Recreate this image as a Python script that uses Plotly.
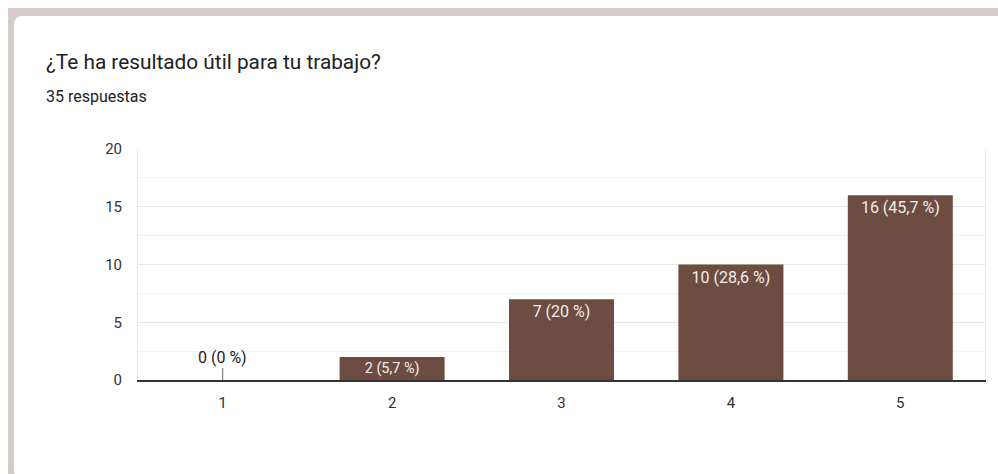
import plotly.graph_objects as go

# Survey results: "¿Te ha resultado útil para tu trabajo?" (scale 1-5)
categories = [1, 2, 3, 4, 5]
counts = [0, 2, 7, 10, 16]
y_ticks = [0, 5, 10, 15, 20]

title_text = "¿Te ha resultado útil para tu trabajo?"
total = sum(counts)
subtitle_text = f"{total} respuestas"

BAR_COLOR = "#6d4c41"
FONT = "Roboto"

W, H = 998, 474
L, R, T, B = 138, 13, 149, 94
PW, PH = W - L - R, H - T - B


def px(x):
    return (x - L) / PW


def py(y):
    return (H - B - y) / PH


def pct_label(v):
    p = round(v / total * 100, 1)
    s = f"{p:.1f}".replace(".", ",")
    if s.endswith(",0"):
        s = s[:-2]
    return f"{v} ({s} %)"


labels = [pct_label(v) for v in counts]
inside_text = [lab if v > 0 else "" for v, lab in zip(counts, labels)]

fig = go.Figure()
fig.add_trace(go.Bar(
    x=categories,
    y=counts,
    width=0.62,
    marker=dict(color=BAR_COLOR, line=dict(width=0)),
    text=inside_text,
    textposition="inside",
    insidetextanchor="end",
    textangle=0,
    insidetextfont=dict(family=FONT, size=16, color="#f2eeed"),
    cliponaxis=False,
    hoverinfo="skip",
))

shapes = []
# page frame: grey band with a rounded white card on top
shapes.append(dict(type="rect", xref="paper", yref="paper",
                   x0=px(8), x1=px(W + 5), y0=py(H + 5), y1=py(8),
                   fillcolor="#d6cbc9", line=dict(width=0), layer="below"))
r = 9
card = (f"M {px(14)},{py(16 + r)} Q {px(14)},{py(16)} {px(14 + r)},{py(16)} "
        f"L {px(W + 5)},{py(16)} L {px(W + 5)},{py(H + 5)} "
        f"L {px(14 + r)},{py(H + 5)} Q {px(14)},{py(H + 5)} {px(14)},{py(H + 5 - r)} Z")
shapes.append(dict(type="path", xref="paper", yref="paper", path=card,
                   fillcolor="white", line=dict(width=0), layer="below"))

annotations = [
    dict(text=title_text, xref="paper", yref="paper", x=px(44), y=py(62),
         xanchor="left", yanchor="middle", showarrow=False,
         font=dict(family=FONT, size=20.8, color="#202124")),
    dict(text=subtitle_text, xref="paper", yref="paper", x=px(44), y=py(96),
         xanchor="left", yanchor="middle", showarrow=False,
         font=dict(family=FONT, size=16, color="#202124")),
]

# zero-count categories get a short stem and an outside label
for c, v, lab in zip(categories, counts, labels):
    if v == 0:
        shapes.append(dict(type="line", xref="x", yref="y",
                           x0=c, x1=c, ysizemode="pixel", yanchor=v,
                           y0=0, y1=12, line=dict(color="#666", width=1)))
        annotations.append(dict(text=lab, x=c, y=v, xref="x", yref="y",
                                xanchor="center", yanchor="bottom", yshift=11,
                                showarrow=False,
                                font=dict(family=FONT, size=16, color="#222")))

fig.update_layout(
    width=W, height=H,
    margin=dict(l=L, r=R, t=T, b=B),
    paper_bgcolor="white",
    plot_bgcolor="rgba(0,0,0,0)",
    showlegend=False,
    shapes=shapes,
    annotations=annotations,
    xaxis=dict(
        range=[0.5, 5.5],
        tickmode="array", tickvals=categories, ticktext=[str(c) for c in categories],
        showgrid=False, zeroline=False,
        showline=True, linecolor="#333", linewidth=1.5,
        ticks="", ticklabelstandoff=8,
        tickfont=dict(family=FONT, size=15, color="#333"),
        fixedrange=True,
    ),
    yaxis=dict(
        range=[0, 20],
        tickmode="array", tickvals=y_ticks, ticktext=[str(t) for t in y_ticks],
        showgrid=True, gridcolor="#e6e6e6", gridwidth=1,
        minor=dict(dtick=2.5, tick0=0, showgrid=True, gridcolor="#f3f3f3", gridwidth=1),
        zeroline=False,
        showline=True, mirror=True, linecolor="#ececec", linewidth=1,
        ticks="", ticklabelstandoff=12,
        tickfont=dict(family=FONT, size=15, color="#333"),
        fixedrange=True,
    ),
)

fig.write_html("out.html")
